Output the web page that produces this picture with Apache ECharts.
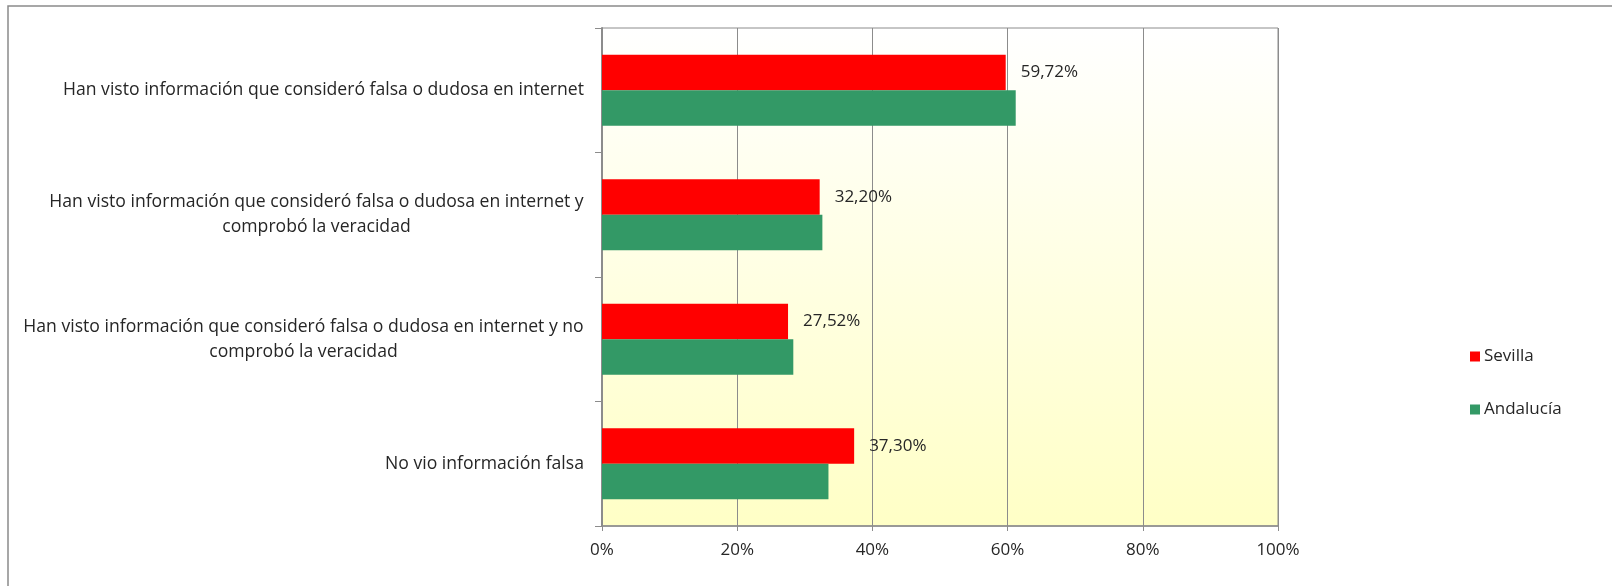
<!DOCTYPE html>
<html>
<head>
<meta charset="utf-8">
<script src="https://cdn.jsdelivr.net/npm/echarts@6/dist/echarts.min.js"></script>
<style>
  html, body { margin: 0; padding: 0; background: #fff; }
  #chart { width: 1612px; height: 586px; }
</style>
</head>
<body>
<div id="chart"></div>
<script>
// categories (top to bottom) and series values, in percent
const categories = [
  'Han visto información que consideró falsa o dudosa en internet',
  'Han visto información que consideró falsa o dudosa en internet y\ncomprobó la veracidad',
  'Han visto información que consideró falsa o dudosa en internet y no\ncomprobó la veracidad',
  'No vio información falsa'
];
const sevilla = [59.72, 32.20, 27.52, 37.30];
const andalucia = [61.2, 32.6, 28.3, 33.5];
const xTicks = [0, 20, 40, 60, 80, 100];

const FONT = '"Open Sans", "DejaVu Sans", sans-serif';
const FONT_SIZE = 17;
const CAT_FONT_SIZE = 17.6;

// multi-line labels are centred line by line, so give each one a box as wide as its longest line
const measureCtx = document.createElement('canvas').getContext('2d');
measureCtx.font = CAT_FONT_SIZE + 'px ' + FONT;
const rich = {};
categories.forEach((c, i) => {
  const w = Math.max(...c.split('\n').map(l => measureCtx.measureText(l).width));
  rich['c' + i] = { width: Math.ceil(w), align: 'center', fontFamily: FONT, fontSize: CAT_FONT_SIZE, color: '#262626', lineHeight: 25 };
});

const chart = echarts.init(document.getElementById('chart'));

chart.setOption({
  animation: false,
  graphic: [{
    type: 'rect',
    shape: { x: 8, y: 6, width: 1700, height: 700 },
    style: { fill: null, stroke: '#8a8a8a', lineWidth: 1.5 },
    silent: true
  }],
  grid: {
    left: 602, right: 334, top: 28, bottom: 60,
    show: true,
    borderColor: '#8c8c8c',
    borderWidth: 1,
    backgroundColor: new echarts.graphic.LinearGradient(0, 0, 0, 1, [
      { offset: 0, color: '#FFFFFF' },
      { offset: 1, color: '#FFFFC6' }
    ])
  },
  legend: {
    orient: 'vertical',
    left: 1465, top: 343,
    itemWidth: 10, itemHeight: 10, itemGap: 36,
    icon: 'rect',
    textStyle: { fontFamily: FONT, fontSize: FONT_SIZE, color: '#262626', padding: [0, 0, 0, -1] },
    data: ['Sevilla', 'Andalucía']
  },
  xAxis: {
    type: 'value',
    min: 0, max: 100, interval: 20,
    axisLine: { show: true, lineStyle: { color: '#8c8c8c', width: 1.5 } },
    axisTick: { show: true, length: 5, lineStyle: { color: '#8c8c8c' } },
    splitLine: { show: true, lineStyle: { color: '#8c8c8c', width: 1 } },
    axisLabel: {
      margin: 16,
      fontFamily: FONT, fontSize: FONT_SIZE, color: '#262626',
      formatter: v => xTicks.includes(v) ? v + '%' : ''
    }
  },
  yAxis: {
    type: 'category',
    inverse: true,
    data: categories,
    axisLine: { show: true, lineStyle: { color: '#8c8c8c', width: 2 } },
    axisTick: { show: true, length: 7, lineStyle: { color: '#8c8c8c' } },
    axisLabel: {
      margin: 18,
      formatter: (v, i) => v.split('\n').map(l => '{c' + i + '|' + l + '}').join('\n'),
      rich: rich
    }
  },
  series: [
    {
      name: 'Sevilla',
      type: 'bar',
      data: sevilla,
      barGap: '0%',
      barCategoryGap: '43%',
      itemStyle: { color: '#FF0000' },
      label: {
        show: true,
        position: 'right',
        distance: 15,
        fontFamily: FONT, fontSize: FONT_SIZE, color: '#262626',
        formatter: p => p.value.toFixed(2).replace('.', ',') + '%'
      }
    },
    {
      name: 'Andalucía',
      type: 'bar',
      data: andalucia,
      barGap: '0%',
      barCategoryGap: '43%',
      itemStyle: { color: '#339966' }
    }
  ]
});
</script>
</body>
</html>
